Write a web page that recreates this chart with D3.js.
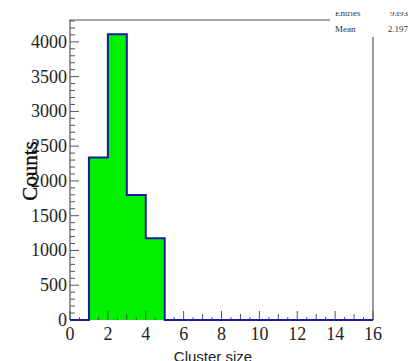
<!DOCTYPE html>
<html>
<head>
<meta charset="utf-8">
<script src="https://cdn.jsdelivr.net/npm/d3@7"></script>
<style>
  body { margin: 0; background: #fff; }
  svg { display: block; }
</style>
</head>
<body>
<div id="chart"></div>
<script>
// cluster size histogram, 16 unit bins from 0 to 16
const binEdges = [0, 1, 2, 3, 4, 5, 6, 7, 8, 9, 10, 11, 12, 13, 14, 15, 16];
const counts = [0, 2338, 4109, 1796, 1174, 0, 0, 0, 0, 0, 0, 0, 0, 0, 0, 0];
const xTicks = [0, 2, 4, 6, 8, 10, 12, 14, 16];
const yTicks = [0, 500, 1000, 1500, 2000, 2500, 3000, 3500, 4000];
const statsLabels = ['Entries', 'Mean'];
const statsValues = ['9393', '2.197'];

const width = 411,
  height = 361,
  margin = {top: 20, right: 38, bottom: 41, left: 70};

const frameColor = '#555';
const serif = '"Liberation Serif", "DejaVu Serif", serif';

const svg = d3.select('#chart')
  .append('svg')
  .attr('width', width)
  .attr('height', height);

const x = d3.scaleLinear()
  .domain([binEdges[0], binEdges[binEdges.length - 1]])
  .range([margin.left, width - margin.right]);

const y = d3.scaleLinear()
  .domain([0, d3.max(counts) * 1.05])
  .range([height - margin.bottom, margin.top]);

// histogram outline, ROOT style step path
const pts = [[binEdges[0], 0]];
counts.forEach((c, i) => {
  pts.push([binEdges[i], c]);
  pts.push([binEdges[i + 1], c]);
});
pts.push([binEdges[binEdges.length - 1], 0]);

const line = d3.line().x(d => x(d[0])).y(d => y(d[1]));

svg.append('path')
  .attr('d', line(pts) + 'Z')
  .attr('fill', '#00f000')
  .attr('stroke', 'none');

// frame (left, top, right)
const x0 = x.range()[0], x1 = x.range()[1];
const y0 = y.range()[0], y1 = y.range()[1];
svg.append('path')
  .attr('d', `M${x0},${y0}V${y1}H${x1}V${y0}`)
  .attr('fill', 'none')
  .attr('stroke', frameColor)
  .attr('stroke-width', 1.2);

// y ticks: major every 500, minor every 100
d3.range(0, y.domain()[1], 100).forEach(v => {
  const major = v % 500 === 0;
  svg.append('line')
    .attr('x1', x0).attr('x2', x0 + (major ? 9 : 5))
    .attr('y1', y(v)).attr('y2', y(v))
    .attr('stroke', frameColor).attr('stroke-width', 1);
});

// x ticks: major every 2, medium at odd, small at halves
d3.range(0, 16.01, 0.5).forEach(v => {
  const len = v % 2 === 0 ? 9 : (v % 1 === 0 ? 6 : 3);
  svg.append('line')
    .attr('x1', x(v)).attr('x2', x(v))
    .attr('y1', y0).attr('y2', y0 - len)
    .attr('stroke', frameColor).attr('stroke-width', 1);
});

svg.append('path')
  .attr('d', line(pts))
  .attr('fill', 'none')
  .attr('stroke', '#1a1aa8')
  .attr('stroke-width', 2);

// tick labels
svg.selectAll('text.ylab')
  .data(yTicks)
  .enter().append('text')
  .attr('class', 'ylab')
  .attr('x', x0 - 3)
  .attr('y', d => y(d) + 6)
  .attr('text-anchor', 'end')
  .attr('font-family', serif)
  .attr('font-size', 18)
  .attr('fill', '#222')
  .text(d => d);

svg.selectAll('text.xlab')
  .data(xTicks)
  .enter().append('text')
  .attr('class', 'xlab')
  .attr('x', d => x(d))
  .attr('y', y0 + 20)
  .attr('text-anchor', 'middle')
  .attr('font-family', serif)
  .attr('font-size', 18)
  .attr('fill', '#222')
  .text(d => d);

// axis titles
svg.append('text')
  .attr('transform', `translate(37,171) rotate(-90)`)
  .attr('text-anchor', 'middle')
  .attr('font-family', serif)
  .attr('font-size', 21)
  .attr('fill', '#111')
  .attr('stroke', '#111')
  .attr('stroke-width', 0.4)
  .text('Counts');

svg.append('text')
  .attr('x', 213)
  .attr('y', 362)
  .attr('text-anchor', 'middle')
  .attr('font-family', '"Liberation Sans", Arial, sans-serif')
  .attr('font-size', 15)
  .attr('fill', '#222')
  .text('Cluster size');

// stats box (partly outside the picture)
const stats = svg.append('g');
stats.append('rect')
  .attr('x', 330).attr('y', -10)
  .attr('width', 90).attr('height', 47)
  .attr('fill', '#fff');

svg.append('clipPath').attr('id', 'statclip')
  .append('rect').attr('x', 330).attr('y', 12).attr('width', 90).attr('height', 30);

const rows = stats.append('g').attr('clip-path', 'url(#statclip)');
statsLabels.forEach((lab, i) => {
  rows.append('text')
    .attr('x', 335).attr('y', 16 + i * 16)
    .attr('font-family', serif).attr('font-size', 9)
    .attr('fill', '#333')
    .text(lab);
  rows.append('text')
    .attr('x', 408).attr('y', 16 + i * 16)
    .attr('text-anchor', 'end')
    .attr('font-family', serif).attr('font-size', 9)
    .attr('fill', '#333')
    .text(statsValues[i]);
});
</script>
</body>
</html>
